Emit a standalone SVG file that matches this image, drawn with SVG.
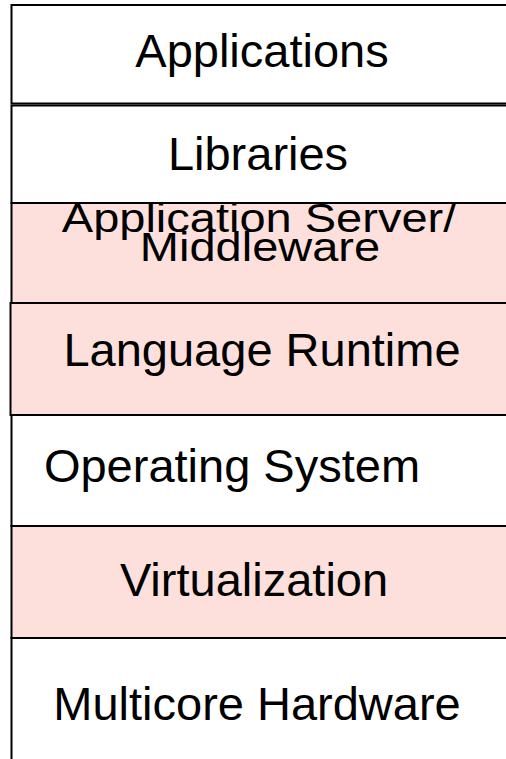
<svg xmlns="http://www.w3.org/2000/svg" width="506" height="759" viewBox="0 0 506 759">
  <style>
    .layer { stroke: #000; stroke-width: 2; }
    .plain { fill: #ffffff; }
    .tinted { fill: #fde0db; }
    .label { font-family: "Liberation Sans", Arial, sans-serif; font-size: 47px; fill: #000; text-anchor: middle; }
  </style>
  <defs>
    <clipPath id="clip-appserver">
      <rect x="11" y="204" width="520" height="98"/>
    </clipPath>
  </defs>
  <rect x="0" y="0" width="506" height="759" fill="#ffffff"/>

  <g id="applications">
    <rect class="layer plain" x="11.5" y="5" width="520" height="98.5"/>
    <text class="label" x="262" y="67">Applications</text>
  </g>

  <g id="libraries">
    <rect class="layer plain" x="11.5" y="105.5" width="520" height="97.5"/>
    <text class="label" x="258" y="170">Libraries</text>
  </g>

  <g id="application-server">
    <rect class="layer tinted" x="11.5" y="203" width="520" height="100"/>
    <g clip-path="url(#clip-appserver)">
      <!-- two-line label, squeezed vertically to fit the layer -->
      <text class="label" transform="translate(259 232) scale(1 0.86)">Application Server/</text>
      <text class="label" transform="translate(260 261) scale(1 0.86)">Middleware</text>
    </g>
  </g>

  <g id="language-runtime">
    <rect class="layer tinted" x="10.5" y="303" width="520" height="112"/>
    <text class="label" x="262" y="366">Language Runtime</text>
  </g>

  <g id="operating-system">
    <rect class="layer plain" x="11.5" y="415" width="520" height="111"/>
    <text class="label" x="232" y="482">Operating System</text>
  </g>

  <g id="virtualization">
    <rect class="layer tinted" x="11.5" y="526" width="520" height="112"/>
    <text class="label" x="254" y="596">Virtualization</text>
  </g>

  <g id="multicore-hardware">
    <rect class="layer plain" x="11.5" y="638" width="520" height="140"/>
    <text class="label" x="257" y="720">Multicore Hardware</text>
  </g>

  <g id="connectors"/>
</svg>
